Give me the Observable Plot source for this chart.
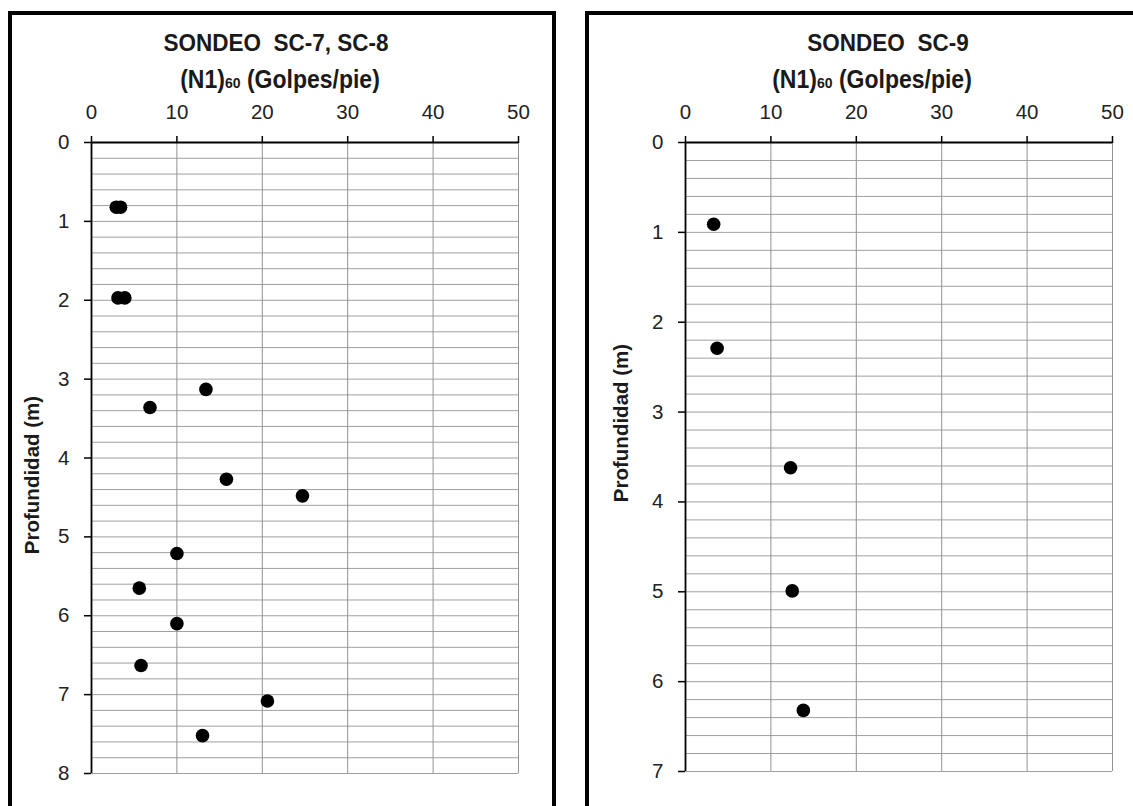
<!DOCTYPE html>
<html>
<head>
<meta charset="utf-8">
<script src="https://cdn.jsdelivr.net/npm/d3@7"></script>
<script src="https://cdn.jsdelivr.net/npm/@observablehq/plot@0.6"></script>
<style>
  html, body { margin: 0; padding: 0; background: #fff; }
  #stage { position: relative; width: 1133px; height: 806px; overflow: hidden; background: #fff;
           font-family: "Liberation Sans", Arial, sans-serif; }
  .plot { position: absolute; top: 0; }
  .frame { position: absolute; border: 4px solid #000; box-sizing: border-box; pointer-events: none; }
  .title, .subtitle { position: absolute; transform: translateX(-50%) scaleY(1.1); white-space: nowrap;
                      font-weight: bold; color: #1a1a1a; line-height: 1; }
  .title { font-size: 22.5px; }
  .subtitle { font-size: 23px; }
  .subtitle small { font-size: 14px; }
  .ylabel { position: absolute; transform: translate(-50%, -50%) rotate(-90deg); white-space: nowrap;
            font-weight: bold; font-size: 20.5px; color: #1a1a1a; line-height: 1; }
</style>
</head>
<body>
<div id="stage">
  <div id="plotA" class="plot" style="left:0px"></div>
  <div id="plotB" class="plot" style="left:570px"></div>
  <div class="frame" style="left:8px; top:11px; width:548px; height:900px"></div>
  <div class="frame" style="left:585px; top:11px; width:600px; height:900px"></div>
  <div class="title" style="left:276px; top:32px">SONDEO&nbsp; SC-7, SC-8</div>
  <div class="subtitle" style="left:280px; top:68px">(N1)<small>60</small> (Golpes/pie)</div>
  <div class="ylabel" style="left:32px; top:475px">Profundidad (m)</div>
  <div class="title" style="left:888px; top:32px">SONDEO&nbsp; SC-9</div>
  <div class="subtitle" style="left:872px; top:68px">(N1)<small>60</small> (Golpes/pie)</div>
  <div class="ylabel" style="left:621px; top:423px">Profundidad (m)</div>
</div>
<script>
// Sondeos SC-7 y SC-8: número de golpes corregido (N1)60 vs profundidad
const sc78Golpes = [2.9, 3.4, 3.1, 3.9, 13.4, 6.85, 15.8, 24.7, 10.0, 5.6, 10.0, 5.8, 20.6, 13.0];
const sc78Prof   = [0.82, 0.82, 1.97, 1.97, 3.13, 3.36, 4.27, 4.48, 5.21, 5.65, 6.10, 6.63, 7.08, 7.52];

// Sondeo SC-9
const sc9Golpes = [3.3, 3.7, 12.3, 12.5, 13.8];
const sc9Prof   = [0.91, 2.29, 3.62, 4.99, 6.32];

// Ejes
const xTicks = [0, 10, 20, 30, 40, 50];
const yTicksA = [0, 1, 2, 3, 4, 5, 6, 7, 8];
const yTicksB = [0, 1, 2, 3, 4, 5, 6, 7];
const xMax = 50;
const yMaxA = 8;
const yMaxB = 7;
const minorStep = 0.2;

function minorLines(max) {
  return d3.range(1, Math.round(max / minorStep) + 1).map(i => +(i * minorStep).toFixed(2));
}

function panel({golpes, prof, yMax, yTicks, width, height, marginLeft, marginRight, marginTop, marginBottom}) {
  const data = golpes.map((g, i) => ({g, p: prof[i]}));
  return Plot.plot({
    width, height, marginLeft, marginRight, marginTop, marginBottom,
    style: {fontFamily: "'Liberation Sans', Arial, sans-serif", background: "transparent", color: "#222"},
    x: {domain: [0, xMax], axis: null},
    y: {domain: [0, yMax], reverse: true, axis: null},
    marks: [
      Plot.ruleY(minorLines(yMax), {stroke: "#a0a0a0", strokeWidth: 1}),
      Plot.ruleX(xTicks.slice(1), {stroke: "#929292", strokeWidth: 1}),
      Plot.axisX({anchor: "top", ticks: xTicks, tickSize: 7, tickPadding: 17, fontSize: 20.5,
                  tickFormat: d => String(d), label: null, stroke: "#000", strokeWidth: 1.5}),
      Plot.axisY({anchor: "left", ticks: yTicks, tickSize: 7, tickPadding: 15, fontSize: 20.5,
                  tickFormat: d => String(d), label: null, stroke: "#000", strokeWidth: 1.5}),
      Plot.ruleY([0], {stroke: "#000", strokeWidth: 1.8}),
      Plot.ruleX([0], {stroke: "#000", strokeWidth: 1.8}),
      Plot.dot(data, {x: "g", y: "p", r: 6.8, fill: "#000", stroke: "none"})
    ]
  });
}

document.getElementById("plotA").append(panel({
  golpes: sc78Golpes, prof: sc78Prof, yMax: yMaxA, yTicks: yTicksA,
  width: 560, height: 806, marginLeft: 91, marginRight: 42, marginTop: 142, marginBottom: 33
}));

document.getElementById("plotB").append(panel({
  golpes: sc9Golpes, prof: sc9Prof, yMax: yMaxB, yTicks: yTicksB,
  width: 563, height: 806, marginLeft: 115, marginRight: 21, marginTop: 142, marginBottom: 35
}));
</script>
</body>
</html>
